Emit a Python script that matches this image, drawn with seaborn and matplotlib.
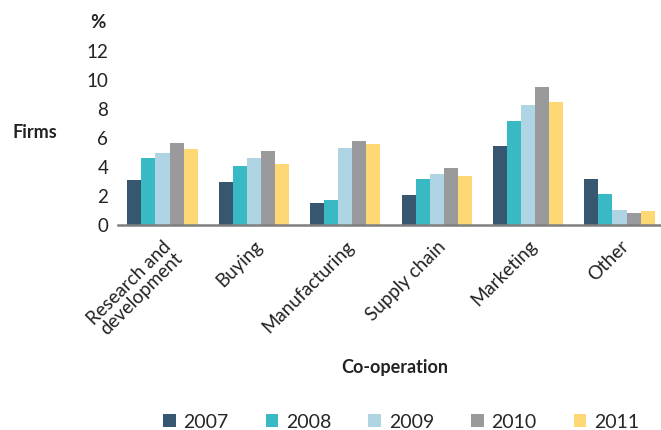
import matplotlib
matplotlib.use("Agg")
import matplotlib.pyplot as plt
import seaborn as sns
import pandas as pd
from matplotlib.patches import Patch

categories = ["Research and\ndevelopment", "Buying", "Manufacturing", "Supply chain", "Marketing", "Other"]
years = ["2007", "2008", "2009", "2010", "2011"]
v2007 = [3.1, 3.0, 1.55, 2.1, 5.45, 3.15]
v2008 = [4.6, 4.1, 1.75, 3.15, 7.2, 2.15]
v2009 = [4.95, 4.65, 5.3, 3.5, 8.3, 1.05]
v2010 = [5.65, 5.1, 5.8, 3.95, 9.5, 0.8]
v2011 = [5.25, 4.2, 5.6, 3.35, 8.5, 1.0]
colors = ["#37566f", "#38b9c3", "#afd4e3", "#9a9a9c", "#fdd874"]

series = [v2007, v2008, v2009, v2010, v2011]
rows = []
for y, vals in zip(years, series):
    for c, v in zip(categories, vals):
        rows.append({"cat": c, "year": y, "val": v})
df = pd.DataFrame(rows)

sns.set_style("white")
plt.rcParams["font.family"] = ["Lato", "DejaVu Sans"]

fig = plt.figure(figsize=(6.61, 4.30), dpi=100)
ax = fig.add_axes([118 / 661, 0.4767, 542.6 / 661, 0.4047])
sns.barplot(data=df, x="cat", y="val", hue="year", palette=colors,
            saturation=1, width=0.77, linewidth=0, ax=ax, legend=False)
ax.set_ylim(0, 12)
ax.set_xlim(-0.487, 5.45)
ax.set_yticks(range(0, 13, 2))
ax.tick_params(axis="y", length=0, labelsize=13.5, pad=7, colors="#222222")
ax.tick_params(axis="x", length=0, labelsize=13.5, pad=9, colors="#222222")
plt.setp(ax.get_xticklabels(), rotation=45, ha="right", rotation_mode="anchor", linespacing=0.95)
for s in ["top", "right", "left"]:
    ax.spines[s].set_visible(False)
ax.spines["bottom"].set_color("#7f7f7f")
ax.spines["bottom"].set_linewidth(1.8)
ax.set_xlabel("")
ax.set_ylabel("")

fig.text(98 / 661, 1 - 22 / 430, "%", fontsize=13.5, fontweight="bold", ha="center", va="center", color="#222222")
fig.text(35 / 661, 1 - 132 / 430, "Firms", fontsize=13, fontweight="bold", ha="center", va="center", color="#222222")
fig.text(395 / 661, 1 - 368 / 430, "Co-operation", fontsize=13, fontweight="bold", ha="center", va="center", color="#222222")

handles = [Patch(facecolor=c, edgecolor="none", label=y) for c, y in zip(colors, years)]
fig.legend(handles=handles, loc="center", bbox_to_anchor=(401 / 661, 1 - 422 / 430), ncol=5,
           frameon=False, fontsize=14, handlelength=0.65, handleheight=0.65,
           handletextpad=0.4, columnspacing=1.9, borderpad=0.2)

fig.savefig("out.png", dpi=100)
